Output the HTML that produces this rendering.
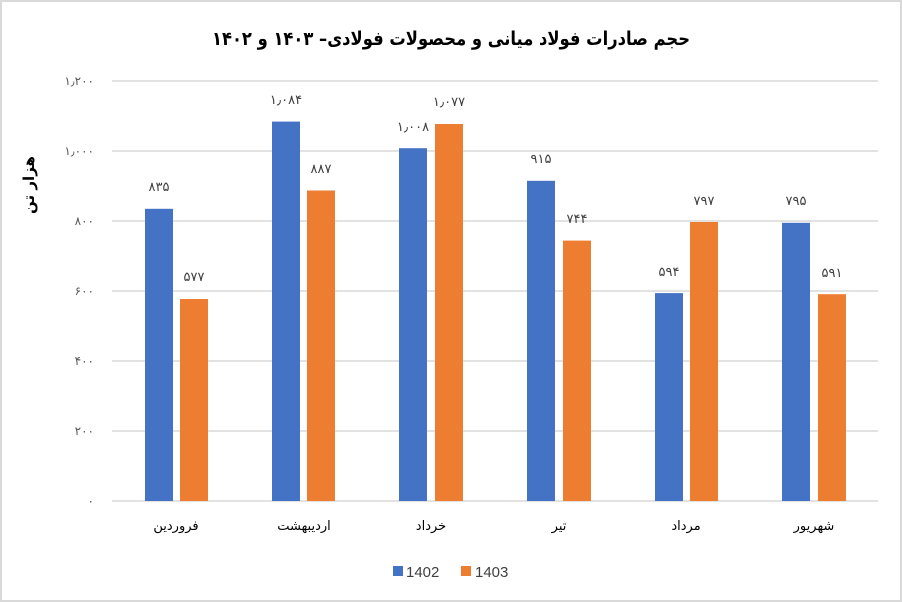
<!DOCTYPE html>
<html><head><meta charset="utf-8"><style>
body{margin:0;background:#fff}
svg{display:block;font-family:"Liberation Sans","DejaVu Sans",sans-serif}
</style></head><body>
<svg width="902" height="602" viewBox="0 0 902 602" xmlns="http://www.w3.org/2000/svg">
<rect x="1" y="1" width="900" height="600" fill="#fff" stroke="#d9d9d9" stroke-width="2"/>
<text x="451" y="45" text-anchor="middle" font-size="19" font-weight="bold" fill="#000" direction="rtl" textLength="478" lengthAdjust="spacingAndGlyphs" font-family="DejaVu Sans, sans-serif">حجم صادرات فولاد میانی و محصولات فولادی– ۱۴۰۳ و ۱۴۰۲</text>
<g stroke="#d9d9d9" stroke-width="1.5">
<line x1="112" x2="878" y1="81" y2="81"/>
<line x1="112" x2="878" y1="151" y2="151"/>
<line x1="112" x2="878" y1="221" y2="221"/>
<line x1="112" x2="878" y1="291" y2="291"/>
<line x1="112" x2="878" y1="361" y2="361"/>
<line x1="112" x2="878" y1="431" y2="431"/>
<line x1="112" x2="878" y1="501" y2="501"/>
</g>
<g font-size="12" fill="#595959" text-anchor="end" font-family="DejaVu Sans, sans-serif">
<text x="94" y="85">۱٫۲۰۰</text>
<text x="94" y="155">۱٫۰۰۰</text>
<text x="94" y="225">۸۰۰</text>
<text x="94" y="295">۶۰۰</text>
<text x="94" y="365">۴۰۰</text>
<text x="94" y="435">۲۰۰</text>
<text x="94" y="505">۰</text>
</g>
<text transform="translate(34,185) rotate(-90)" text-anchor="middle" font-size="15" font-weight="bold" fill="#000" font-family="DejaVu Sans, sans-serif">هزار تن</text>
<g font-size="13" fill="#404040" text-anchor="middle" font-family="DejaVu Sans, sans-serif">
<rect x="145" y="208.8" width="28" height="292.2" fill="#4472c4"/><rect x="180" y="299" width="28" height="202" fill="#ed7d31"/>
<text x="159" y="191">۸۳۵</text><text x="194" y="281">۵۷۷</text>
<rect x="272" y="121.6" width="28" height="379.4" fill="#4472c4"/><rect x="307" y="190.5" width="28" height="310.5" fill="#ed7d31"/>
<text x="286" y="104">۱٫۰۸۴</text><text x="321" y="173">۸۸۷</text>
<rect x="399" y="148.2" width="28" height="352.8" fill="#4472c4"/><rect x="435" y="124" width="28" height="377" fill="#ed7d31"/>
<text x="413" y="131">۱٫۰۰۸</text><text x="449" y="106">۱٫۰۷۷</text>
<rect x="527" y="180.8" width="28" height="320.2" fill="#4472c4"/><rect x="563" y="240.6" width="28" height="260.4" fill="#ed7d31"/>
<text x="541" y="163">۹۱۵</text><text x="577" y="223">۷۴۴</text>
<rect x="655" y="293.1" width="28" height="207.9" fill="#4472c4"/><rect x="690" y="222" width="28" height="279" fill="#ed7d31"/>
<text x="669" y="276">۵۹۴</text><text x="704" y="205">۷۹۷</text>
<rect x="782" y="222.8" width="28" height="278.2" fill="#4472c4"/><rect x="818" y="294.2" width="28" height="206.8" fill="#ed7d31"/>
<text x="796" y="205">۷۹۵</text><text x="832" y="277">۵۹۱</text>
</g>
<g font-size="13" fill="#000" text-anchor="middle" direction="rtl" font-family="DejaVu Sans, sans-serif">
<text x="176" y="530">فروردین</text>
<text x="304" y="530">اردیبهشت</text>
<text x="431" y="530">خرداد</text>
<text x="559" y="530">تیر</text>
<text x="686" y="530">مرداد</text>
<text x="814" y="530">شهریور</text>
</g>
<rect x="393" y="566" width="10" height="10" fill="#4472c4"/>
<text x="406" y="577" font-size="15" fill="#404040">1402</text>
<rect x="461" y="566" width="10" height="10" fill="#ed7d31"/>
<text x="475" y="577" font-size="15" fill="#404040">1403</text>
</svg>
</body></html>
